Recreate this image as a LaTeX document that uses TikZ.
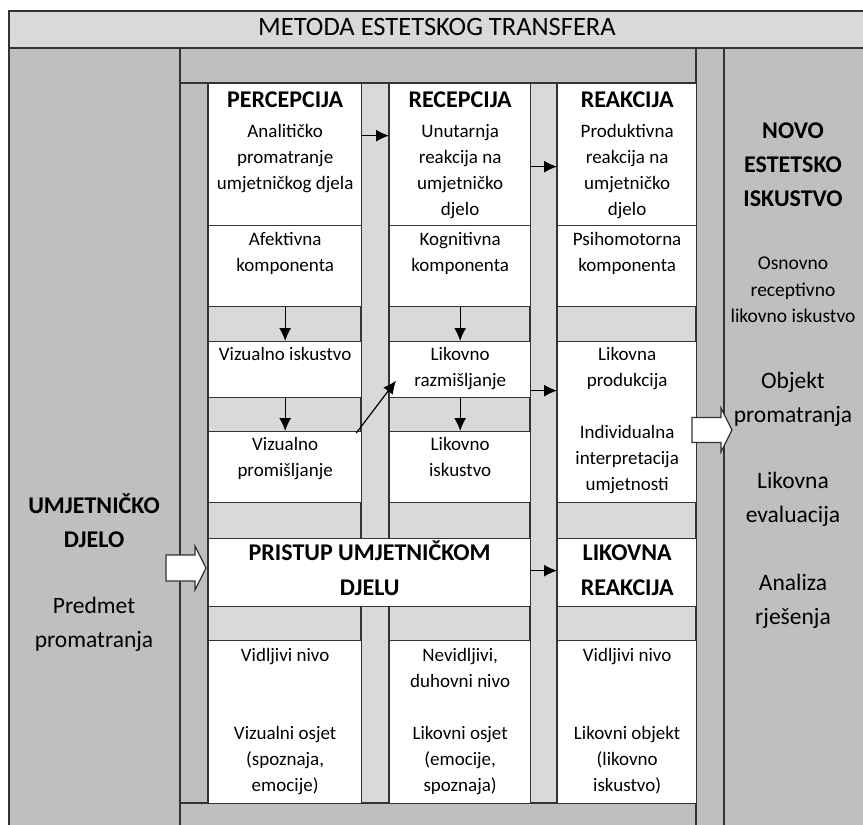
\documentclass[tikz,border=0pt]{standalone}
\usepackage{fontspec}
\setmainfont{Carlito}
\usetikzlibrary{positioning, arrows.meta}
\newcommand{\unitsize}{1pt}
\newcommand{\bodyfont}{\fontsize{19}{26}\selectfont}
\newcommand{\headfont}{\fontsize{24}{30}\selectfont\bfseries}
\newcommand{\bighead}{\fontsize{24}{35}\selectfont\bfseries}
\newcommand{\panelhead}{\fontsize{24}{34}\selectfont\bfseries}
\newcommand{\panelfont}{\fontsize{23.5}{34}\selectfont}
\newcommand{\smallpanel}{\fontsize{19.5}{26.5}\selectfont}
\definecolor{panelgray}{HTML}{BFBFBF}
\definecolor{gapgray}{HTML}{D9D9D9}
\definecolor{linegray}{HTML}{333333}

\begin{document}
\begin{tikzpicture}[x=\unitsize, y=-\unitsize, line width=1.3pt, draw=linegray]
\useasboundingbox (0,0) rectangle (863,825);
\clip (0,0) rectangle (863,825);
\tikzstyle{box}=[draw=linegray, fill=white, anchor=north west, inner sep=0pt]
\tikzstyle{txt}=[align=center, inner sep=0pt, text=black, font=\bodyfont]
\tikzstyle{head}=[txt, font=\headfont]
\tikzstyle{arr}=[-{Latex[length=13pt,width=12pt]}, line width=1.2pt, draw=black]
\tikzstyle{blockarrow}=[draw=linegray, fill=white, line width=1.2pt, line join=miter]

% background panels
\fill[panelgray] (9,48) rectangle (870,830);
\fill[gapgray] (9,11) rectangle (870,48);
\draw (9,830) -- (9,11) -- (870,11);
\draw (9,48) -- (870,48);
\draw (180,48) -- (180,830);
\draw (696,48) -- (696,830);
\draw (724,48) -- (724,830);
\draw (180,83) -- (696,83);
\draw (180,803) -- (696,803);
\fill[gapgray] (208,83) rectangle (696,803);
\draw (208,83) rectangle (696,803);
\draw (361,83) -- (361,803);
\draw (389,83) -- (389,803);
\draw (530,83) -- (530,803);
\draw (557,83) -- (557,803);

\node[font=\fontsize{26.5}{30}\selectfont, anchor=base] (title) at (437,35) {METODA ESTETSKOG TRANSFERA};

% column 1
\node[box, minimum width=153, minimum height=142] (perc) at (208,83) {};
\node[box, minimum width=153, minimum height=81] (afek) at (208,225) {};
\node[box, minimum width=153, minimum height=56] (vizisk) at (208,341) {};
\node[box, minimum width=153, minimum height=71] (vizprom) at (208,431) {};
% column 2
\node[box, minimum width=141, minimum height=142] (rec) at (389,83) {};
\node[box, minimum width=141, minimum height=81] (kogn) at (389,225) {};
\node[box, minimum width=141, minimum height=56] (likrazm) at (389,341) {};
\node[box, minimum width=141, minimum height=71] (likisk) at (389,431) {};
% column 3
\node[box, minimum width=139, minimum height=142] (reak) at (557,83) {};
\node[box, minimum width=139, minimum height=81] (psih) at (557,225) {};
\node[box, minimum width=139, minimum height=161] (likprod) at (557,341) {};
% lower rows
\node[box, minimum width=322, minimum height=68] (pristup) at (208,538) {};
\node[box, minimum width=139, minimum height=68] (likreak) at (557,538) {};
\node[box, minimum width=153, minimum height=163] (vidlj) at (208,640) {};
\node[box, minimum width=141, minimum height=163] (nevidlj) at (389,640) {};
\node[box, minimum width=139, minimum height=163] (vidljr) at (557,640) {};

% box texts
\node[head, below=3pt of perc.north] (percT) {\strut PERCEPCIJA};
\node[txt, below=35.8pt of perc.north] {\strut Analitičko\\promatranje\\umjetničkog djela};
\node[head, below=3pt of rec.north] (recT) {\strut RECEPCIJA};
\node[txt, below=35.8pt of rec.north] {\strut Unutarnja\\reakcija na\\umjetničko\\djelo};
\node[head, below=3pt of reak.north] (reakT) {\strut REAKCIJA};
\node[txt, below=35.8pt of reak.north] {\strut Produktivna\\reakcija na\\umjetničko\\djelo};
\node[txt, below=2pt of afek.north] {\strut Afektivna\\komponenta};
\node[txt, below=2pt of kogn.north] {\strut Kognitivna\\komponenta};
\node[txt, below=2pt of psih.north] {\strut Psihomotorna\\komponenta};
\node[txt, below=1pt of vizisk.north] {\strut Vizualno iskustvo};
\node[txt, below=1pt of likrazm.north] {\strut Likovno\\razmišljanje};
\node[txt, below=1pt of likprod.north] {\strut Likovna\\produkcija\\ \\Individualna\\interpretacija\\umjetnosti};
\node[txt, below=1pt of vizprom.north] {\strut Vizualno\\promišljanje};
\node[txt, below=1pt of likisk.north] {\strut Likovno\\iskustvo};
\node[txt, font=\bighead, below=-2.5pt of pristup.north] {\strut PRISTUP UMJETNIČKOM\\DJELU};
\node[txt, font=\bighead, below=-2.5pt of likreak.north] {\strut LIKOVNA\\REAKCIJA};
\node[txt, below=2.8pt of vidlj.north] {\strut Vidljivi nivo\\ \\ \\Vizualni osjet\\(spoznaja,\\emocije)};
\node[txt, below=2.8pt of nevidlj.north] {\strut Nevidljivi,\\duhovni nivo\\ \\Likovni osjet\\(emocije,\\spoznaja)};
\node[txt, below=2.8pt of vidljr.north] {\strut Vidljivi nivo\\ \\ \\Likovni objekt\\(likovno\\iskustvo)};

% side panels
\node[txt, font=\panelhead, anchor=north] (umdj) at (94,489.2) {\strut UMJETNIČKO\\DJELO};
\node[txt, font=\panelfont, anchor=north] (predm) at (94,589.2) {\strut Predmet\\promatranja};
\node[txt, font=\panelhead, anchor=north] (novo) at (793,114.5) {\strut NOVO\\ESTETSKO\\ISKUSTVO};
\node[txt, font=\smallpanel, anchor=north] (osnov) at (793,250.5) {\strut Osnovno\\receptivno\\likovno iskustvo};
\node[txt, font=\panelfont, anchor=north] (objekt) at (793,364.2) {\strut Objekt\\promatranja};
\node[txt, font=\panelfont, anchor=north] (evalu) at (793,464.2) {\strut Likovna\\evaluacija};
\node[txt, font=\panelfont, anchor=north] (anal) at (793,566.2) {\strut Analiza\\rješenja};

% connectors
\draw[arr] ([yshift=19pt]perc.east) -- ([yshift=19pt]rec.west);
\draw[arr] ([yshift=-12pt]rec.east) -- ([yshift=-12pt]reak.west);
\draw[arr] (afek.south) -- (vizisk.north);
\draw[arr] (kogn.south) -- (likrazm.north);
\draw[arr] (vizisk.south) -- (vizprom.north);
\draw[arr] (likrazm.south) -- (likisk.north);
\draw[arr] ([xshift=-6pt,yshift=-2pt]vizprom.north east) -- ([xshift=7pt,yshift=-11pt]likrazm.west);
\coordinate (razmout) at ([yshift=-21pt]likrazm.east);
\draw[arr] (razmout) -- (razmout -| likprod.west);
\draw[arr] ([yshift=2pt]pristup.east) -- ([yshift=2pt]likreak.west);

% block arrows
\coordinate (inarrow) at (166,568);
\coordinate (outarrow) at (692,430);
\draw[blockarrow] (inarrow) ++(0,-13) -- ++(29,0) -- ++(0,-9) -- ++(11,22) -- ++(-11,22) -- ++(0,-9) -- ++(-29,0) -- cycle;
\draw[blockarrow] (outarrow) ++(0,-12.5) -- ++(29,0) -- ++(0,-9.5) -- ++(11,22) -- ++(-11,22) -- ++(0,-9.5) -- ++(-29,0) -- cycle;

\end{tikzpicture}
\end{document}
